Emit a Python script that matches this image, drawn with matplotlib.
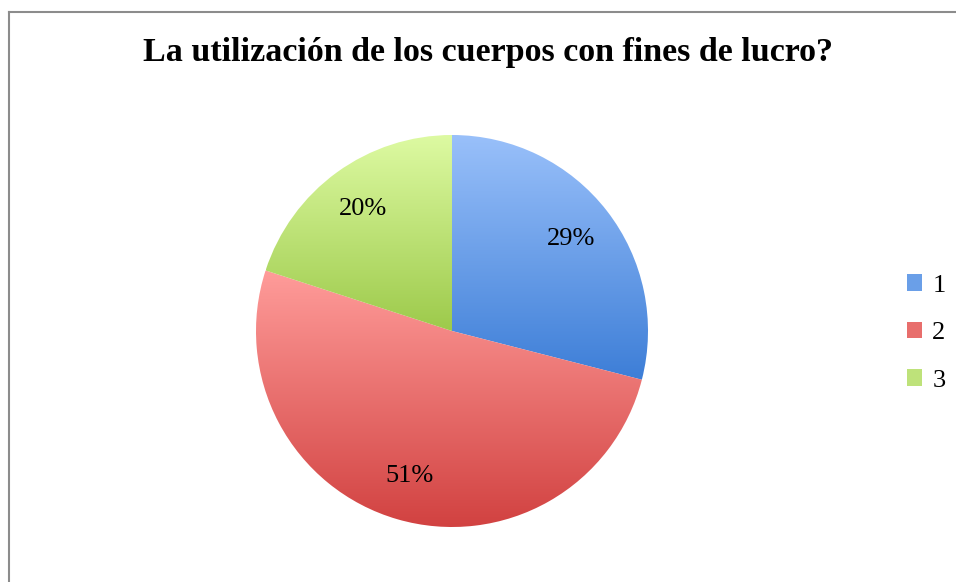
import numpy as np
import matplotlib
matplotlib.use("Agg")
from matplotlib import pyplot as plt
from matplotlib.colors import LinearSegmentedColormap
from matplotlib.lines import Line2D
from matplotlib.patches import Patch

title = "La utilización de los cuerpos con fines de lucro?"
labels = ["1", "2", "3"]
values = [29, 51, 20]
# top / bottom gradient colours per slice
tops = ["#99C0FA", "#FF9C9A", "#DDFAA2"]
bottoms = ["#3D7ED7", "#D14140", "#9DCA4B"]
mids = ["#6A9FE8", "#E86E6C", "#BEE27A"]

W, H = 956, 582
fig = plt.figure(figsize=(W / 100, H / 100), dpi=100)
ax = fig.add_axes([0, 0, 1, 1])

cx, cy, r = 452, H - 331, 196
wedges, texts, autotexts = ax.pie(
    values, startangle=90, counterclock=False, center=(cx, cy), radius=r,
    autopct="%d%%", pctdistance=0.77, frame=True,
    wedgeprops=dict(linewidth=0),
    textprops=dict(fontsize=19, family="Liberation Serif", color="black"))

# vertical gradient clipped to each wedge
for w, c0, c1 in zip(wedges, tops, bottoms):
    v = w.get_path().vertices
    x0, x1 = v[:, 0].min(), v[:, 0].max()
    y0, y1 = v[:, 1].min(), v[:, 1].max()
    cmap = LinearSegmentedColormap.from_list("g", [c1, c0])
    grad = np.linspace(0, 1, 256).reshape(-1, 1)
    im = ax.imshow(grad, cmap=cmap, origin="lower", aspect="auto",
                   extent=(x0, x1, y0, y1), interpolation="bilinear", zorder=1)
    im.set_clip_path(w)
    w.set_facecolor("none")

ax.set_xlim(0, W)
ax.set_ylim(0, H)
ax.set_aspect("equal")
ax.axis("off")

fig.text(488 / W, 1 - 53 / H, title, ha="center", va="center",
         fontsize=24.5, fontweight="bold", family="Liberation Serif")

handles = [Patch(facecolor=m, edgecolor="none") for m in mids]
fig.legend(handles, labels, loc="center left", bbox_to_anchor=(883 / W, 1 - 333 / H),
           frameon=False, prop=dict(family="Liberation Serif", size=19),
           handlelength=0.57, handleheight=0.57, handletextpad=0.4, labelspacing=0.95)

# chart area frame (left and top edges visible)
fig.add_artist(Line2D([9 / W, 9 / W], [0, 1 - 12 / H], color="#8c8c8c", lw=1.5))
fig.add_artist(Line2D([9 / W, 1], [1 - 12 / H, 1 - 12 / H], color="#8c8c8c", lw=1.5))

fig.savefig("out.png", dpi=100)
